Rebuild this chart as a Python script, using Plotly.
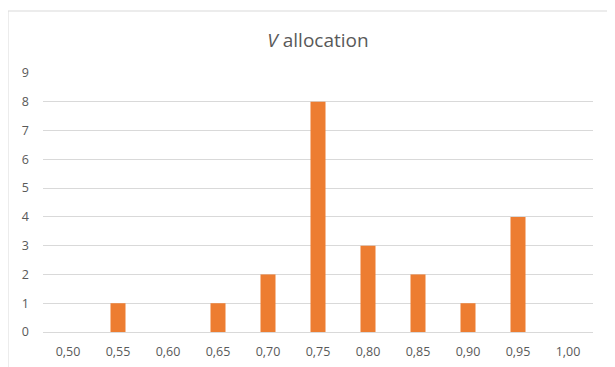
import plotly.graph_objects as go

categories = ["0,50", "0,55", "0,60", "0,65", "0,70", "0,75", "0,80", "0,85", "0,90", "0,95", "1,00"]
counts = [0, 1, 0, 1, 2, 8, 3, 2, 1, 4, 0]
y_ticks = [0, 1, 2, 3, 4, 5, 6, 7, 8, 9]

# page body has an 8px margin, so the figure is sized/offset to compensate
OFF = 8
W, H = 615 - OFF, 367 - OFF
ml, mt = 43 - OFF, 73 - OFF
mr = W - (593 - OFF)
mb = H - (332 - OFF)
pw = W - ml - mr
ph = H - mt - mb

fig = go.Figure(go.Bar(x=categories, y=counts, marker=dict(color="#ED7D31", line=dict(width=0))))

bx = (8 - OFF - ml) / pw
by = 1 + (mt - (11 - OFF)) / ph
grey = "#595959"
fig.update_layout(
    width=W, height=H,
    margin=dict(l=ml, r=mr, t=mt, b=mb, autoexpand=False),
    paper_bgcolor="white", plot_bgcolor="white",
    bargap=0.7,
    showlegend=False,
    font=dict(family="Open Sans, sans-serif", color=grey, size=12),
    title=dict(text="<i>V</i> allocation", x=0.5, xref="paper", xanchor="center",
               y=1 - (40 - OFF) / H, yanchor="middle", font=dict(size=19, color=grey)),
    xaxis=dict(type="category", showgrid=False, showline=False, ticks="", zeroline=False,
               automargin=False,
               tickfont=dict(size=12.5, color=grey), ticklabelstandoff=10),
    yaxis=dict(range=[0, 9], tickvals=y_ticks, showgrid=True, gridcolor="#d9d9d9", gridwidth=1,
               zeroline=True, zerolinecolor="#d9d9d9", zerolinewidth=1, showline=False, ticks="",
               automargin=False,
               tickfont=dict(size=12.5, color=grey), ticklabelstandoff=13),
    shapes=[
        dict(type="line", xref="paper", yref="paper", x0=bx, x1=bx, y0=-0.3, y1=by,
             line=dict(color="#d9d9d9", width=1)),
        dict(type="line", xref="paper", yref="paper", x0=bx, x1=1.2, y0=by, y1=by,
             line=dict(color="#d9d9d9", width=1)),
    ],
)
fig.write_html("out.html")
